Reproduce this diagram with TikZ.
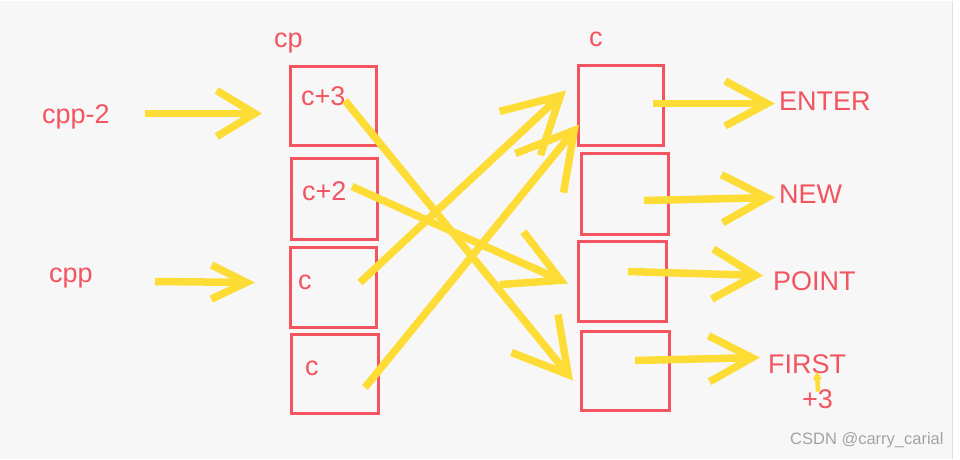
\documentclass[tikz,border=0pt]{standalone}
\usepackage{fontspec}
\setmainfont{Liberation Sans}
\usetikzlibrary{arrows.meta}
\definecolor{rd}{HTML}{F25460}
\definecolor{ylw}{HTML}{FDDC36}
\definecolor{bg}{HTML}{F7F7F7}
\definecolor{wm}{HTML}{A3A3A3}
\tikzset{
  box/.style={draw=rd, line width=3pt, rectangle, inner sep=0pt},
  lbl/.style={text=rd, font=\fontsize{27}{30}\selectfont, anchor=base west, inner sep=0pt},
  yarr/.style 2 args={draw=ylw, line width=7.5pt, -{Straight Barb[length=#1pt, width=#2pt]}},
}
\begin{document}
\begin{tikzpicture}[x=1pt, y=-1pt]
\fill[white] (0,0) rectangle (960,458);
\fill[bg] (0,0) rectangle (952,458);
\draw[gray!25, line width=1pt] (952,0) -- (952,458);
\useasboundingbox (0,0) rectangle (960,458);

% boxes
\node[box, minimum width=86pt, minimum height=79pt] (L1) at (333,105.5) {};
\node[box, minimum width=86pt, minimum height=81pt] (L2) at (334,198.5) {};
\node[box, minimum width=86pt, minimum height=80pt] (L3) at (333,287) {};
\node[box, minimum width=87pt, minimum height=79pt] (L4) at (334.5,373.5) {};
\node[box, minimum width=85pt, minimum height=80pt] (R1) at (620.5,105) {};
\node[box, minimum width=87pt, minimum height=81pt] (R2) at (624.5,193.5) {};
\node[box, minimum width=88pt, minimum height=80pt] (R3) at (622,281) {};
\node[box, minimum width=88pt, minimum height=79pt] (R4) at (625,370.5) {};

% labels
\node[lbl] (tcp) at (274,47) {cp};
\node[lbl] (tc) at (589,46) {c};
\node[lbl] (tcpp2) at (42,123) {cpp-2};
\node[lbl] (tcpp) at (49,282) {cpp};
\node[lbl] (tc3) at (301,105) {c+3};
\node[lbl] (tc2) at (302,200) {c+2};
\node[lbl] (tcA) at (298,289) {c};
\node[lbl] (tcB) at (305,375) {c};
\node[lbl] (tenter) at (779,110) {ENTER};
\node[lbl] (tnew) at (779,203) {NEW};
\node[lbl] (tpoint) at (773,290) {POINT};
\node[lbl] (tfirst) at (768,373) {FIRST};
\node[lbl] (tplus) at (802,408) {+3};
\node[text=wm, font=\fontsize{16.5}{18}\selectfont, anchor=base west, inner sep=0pt] (wmk) at (790,444) {CSDN @carry\_carial};

% arrow endpoints
\coordinate (a1s) at (145,113); \coordinate (a1e) at (262,113);
\coordinate (a2s) at (155,281); \coordinate (a2e) at (255,282);
\coordinate (a3s) at (345,100); \coordinate (a3e) at (573,380);
\coordinate (a4s) at (352,186); \coordinate (a4e) at (568,283);
\coordinate (a5s) at (360,282); \coordinate (a5e) at (566,90);
\coordinate (a6s) at (365,387); \coordinate (a6e) at (579,124);
\coordinate (a7s) at (653,103); \coordinate (a7e) at (775,103);
\coordinate (a8s) at (644,200); \coordinate (a8e) at (775,197);
\coordinate (a9s) at (628,271); \coordinate (a9e) at (763,275);
\coordinate (a10s) at (635,360); \coordinate (a10e) at (760,357);
\coordinate (a11s) at (818,391); \coordinate (a11e) at (817,371);

\draw[yarr={38}{46}] (a1s) -- (a1e);
\draw[yarr={35}{34}] (a2s) -- (a2e);
\draw[yarr={53}{60}] (a3s) -- (a3e);
\draw[yarr={54}{58}] (a4s) -- (a4e);
\draw[yarr={55}{60}] (a5s) -- (a5e);
\draw[yarr={55}{62}] (a6s) -- (a6e);
\draw[yarr={42}{45}] (a7s) -- (a7e);
\draw[yarr={45}{48}] (a8s) -- (a8e);
\draw[yarr={43}{50}] (a9s) -- (a9e);
\draw[yarr={43}{46}] (a10s) -- (a10e);
\draw[draw=ylw, fill=ylw, line width=4.5pt, -{Triangle[length=8pt, width=9pt, line width=1pt]}] (a11s) -- (a11e);
\end{tikzpicture}
\end{document}
